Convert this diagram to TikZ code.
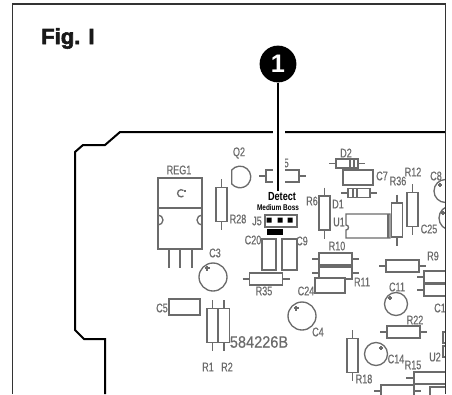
\documentclass[tikz,border=0pt]{standalone}
\usepackage{fontspec}
\setmainfont{Liberation Sans}
\newfontfamily\narrowfont[FakeStretch=0.72,FakeBold=0.5]{Liberation Sans}
\newfontfamily\detectfont[FakeStretch=0.78]{Liberation Sans Bold}
\newfontfamily\partfont[FakeStretch=0.88,FakeBold=0.6]{Liberation Sans}
\newfontfamily\figfont[FakeBold=2.5]{Liberation Sans Bold}
\definecolor{ink}{gray}{0.42}
\tikzset{
  part/.style={draw=ink,line width=1pt},
  lbl/.style={text=ink,inner sep=0pt,font=\narrowfont\fontsize{9.4}{9.4}\selectfont},
  hr/.pic={\draw[part] (-16.5,-6) rectangle (16.5,6);
           \draw[part] (-23.5,0)--(-16.5,0) (16.5,0)--(23.5,0);},
  vr/.pic={\draw[part] (-5.5,-17) rectangle (5.5,17);
           \draw[part] (0,-25.5)--(0,-17) (0,17)--(0,25.5);},
  diode/.pic={\draw[part] (-11,-4.5) rectangle (11,4.5);
           \draw[part] (-18,0)--(-11,0) (11,0)--(18,0);},
}
\begin{document}
\begin{tikzpicture}[x=0.75pt,y=-0.75pt]
\useasboundingbox (0,0) rectangle (452,394);
\begin{scope}
\clip (0,0) rectangle (445,394);
% regulator
\draw[part] (158,178) rectangle (202,249);
\draw[part] (158,208)--(202,208);
\draw[part] (169,249)--(169,268) (180,249)--(180,268) (192,249)--(192,268);
\draw[part] (158,215) arc (-90:90:5);
\draw[part] (202,215) arc (-90:-270:5);
\draw[part] (183.5,190.5) arc (-50:-310:3.6);
\draw[part] (184,191)--(186,191);
\node[lbl] (reg1) at (179,170) {REG1};
% Q2
\draw[part] (231.7,170) arc (-140:140:10.8) -- cycle;
\node[lbl] (q2) at (239,153) {Q2};
% R5
\pic at (282.5,176) {hr};
\node[lbl] (r5) at (283,163) {R5};
% R28
\pic at (221.5,204.5) {vr};
\node[lbl] (r28) at (238,219) {R28};
% J5
\node[text=black,inner sep=0pt,font=\detectfont\fontsize{8.8}{8.8}\selectfont] (detect) at (282,197) {Detect};
\node[text=black,inner sep=0pt,font=\detectfont\fontsize{6.2}{6.2}\selectfont] (boss) at (278,208) {Medium Boss};
\node[lbl] (j5) at (257,221) {J5};
\draw[part] (265,215) rectangle (297,227);
\fill[black] (266.5,217.5) rectangle (271.5,222.5) (277.5,217.5) rectangle (282.5,222.5) (287.5,217.5) rectangle (292.5,222.5);
\fill[black] (267,229) rectangle (283,235);
% C20 C9 R35
\draw[part] (262,239) rectangle (276,270);
\draw[part] (282,239) rectangle (297,270);
\node[lbl] (c20) at (253,240) {C20};
\node[lbl] (c9) at (302,241) {C9};
\pic at (266,279) {hr};
\node[lbl] (r35) at (264,291) {R35};
% R10 R11 C24
\pic at (335.5,259) {hr};
\pic at (335.5,273) {hr};
\node[lbl] (r10) at (337,246) {R10};
\node[lbl] (r11) at (362,282) {R11};
\draw[part,fill=white] (315,278) rectangle (345,293);
\node[lbl] (c24) at (306,291) {C24};
% C4 C3
\draw[part] (302,316) circle (14);
\draw[part] (293.5,308)--(298.5,308) (296,305.5)--(296,310.5);
\node[lbl] (c4) at (318,332) {C4};
\draw[part] (213,277) circle (14);
\draw[part] (204.5,268)--(209.5,268) (207,265.5)--(207,270.5);
\node[lbl] (c3) at (215,253) {C3};
% C5 R1 R2
\draw[part] (169,299) rectangle (200,315);
\node[lbl] (c5) at (162,308) {C5};
\pic at (212.5,325.5) {vr};
\pic at (224,325.5) {vr};
\node[lbl] (r1) at (208,367) {R1};
\node[lbl] (r2) at (227,367) {R2};
\node[text=ink,inner sep=0pt,font=\partfont\fontsize{12.4}{12.4}\selectfont] (code) at (259,342) {584226B};
% C11 R22 R9
\draw[part] (396,304) circle (11.5);
\draw[part] (388,298)--(392,298) (390,296)--(390,300);
\node[lbl] (c11) at (397,287) {C11};
\pic at (403.5,332) {hr};
\node[lbl] (r22) at (415,320) {R22};
\pic at (402.5,266) {hr};
\node[lbl] (r9) at (433,256) {R9};
\draw[part] (424,271) rectangle (460,283);
\draw[part] (424,284) rectangle (460,296);
\draw[part] (417,277)--(424,277) (417,290)--(424,290);
\node[lbl] (c1) at (440,308) {C1};
% R18 C14 R15
\pic at (352.5,355.5) {vr};
\node[lbl] (r18) at (364,379) {R18};
\draw[part] (376,354) circle (11.5);
\draw[part] (379,348)--(383,348) (381,346)--(381,350);
\node[lbl] (c14) at (396,359) {C14};
\node[lbl] (r15) at (413,365) {R15};
\draw[part] (414,372) rectangle (460,384);
\draw[part] (406,378)--(414,378);
\draw[part] (381,385) rectangle (414,400);
\draw[part] (374,391)--(381,391) (414,391)--(421,391);
\draw[part] (430,387) rectangle (460,400);
\node[lbl] (u2) at (435,357) {U2};
\draw[part] (443,332) rectangle (460,343);
\draw[part] (443,346) rectangle (460,357);
% D2 C7 D1
\pic at (347,163.5) {diode};
\draw[part] (350,159)--(350,168) (354,159)--(354,168);
\node[lbl] (d2) at (346,153) {D2};
\draw[part] (343,170) rectangle (373,185);
\node[lbl] (c7) at (382,176) {C7};
\pic at (359,193) {diode};
\draw[part] (353,188.5)--(353,197.5) (357,188.5)--(357,197.5);
\node[lbl] (d1) at (338,204) {D1};
% R6 U1 R36 R12
\pic at (324.5,213) {vr};
\node[lbl] (r6) at (312,201) {R6};
\draw[part] (346,214)--(390,214)--(390,238)--(346,238)--(346,230) arc (90:-90:2.5)--cycle;
\draw[part] (388,214)--(388,238);
\node[lbl] (u1) at (339,222) {U1};
\pic at (397,220) {vr};
\node[lbl] (r36) at (398,181) {R36};
\pic at (412.5,209.5) {vr};
\node[lbl] (r12) at (413,172) {R12};
% C8 C25
\draw[part] (445.5,191) circle (11.5);
\draw[part] (438,185)--(442,185) (440,183)--(440,187);
\node[lbl] (c8) at (436,176) {C8};
\draw[part] (451,218) circle (12);
\draw[part] (441,213)--(445,213) (443,211)--(443,215);
\node[lbl] (c25) at (429,229) {C25};
\end{scope}
% board outline
\draw[black,line width=1.5pt,line join=miter] (445,132)--(120,132)--(105,145)--(83,145)--(75,152)--(75,330)--(84,339)--(105,339)--(105,394);
% frame
\draw[black!80,line width=0.8pt] (12.5,394)--(12.5,4)--(445.5,4)--(445.5,394);
% callout
\fill[white] (273,129) rectangle (285,190);
\node[circle,fill=black,minimum size=27.6pt,inner sep=0pt,text=white,font=\bfseries\fontsize{19}{19}\selectfont] (one) at (278,64) {1};
\coordinate (tip) at (278,191);
\draw[black,line width=1pt] (one)--(tip);
\node[inner sep=0pt,anchor=west,text=black!90,font=\figfont\fontsize{16.5}{16.5}\selectfont] (fig) at (41,38.5) {Fig. I};
\end{tikzpicture}
\end{document}
